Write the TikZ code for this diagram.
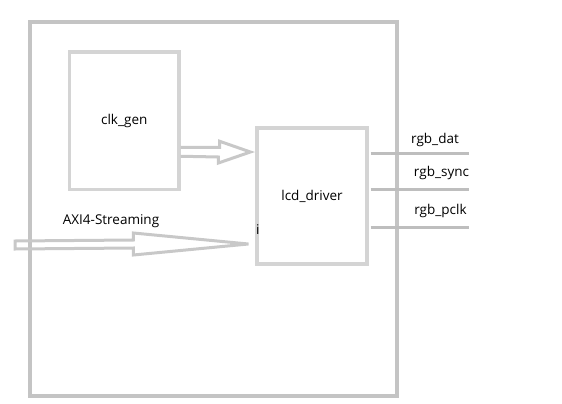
\documentclass[tikz,border=0pt]{standalone}
\usepackage{fontspec}
\setmainfont{Open Sans}
\definecolor{outerc}{HTML}{C4C4C4}
\definecolor{boxc}{HTML}{D4D4D4}
\definecolor{arrc}{HTML}{C8C8C8}
\definecolor{linec}{HTML}{BEBEBE}
\definecolor{txt}{HTML}{000000}
\begin{document}
\begin{tikzpicture}[x=1pt,y=-1pt,
  outerbox/.style={draw=outerc,line width=4pt,rectangle,inner sep=0pt},
  blockbox/.style={draw=boxc,line width=3.2pt,rectangle,inner sep=0pt,text=txt,font=\fontsize{13.5}{15}\selectfont},
  hollowarrow/.style={draw=arrc,line width=3pt,line join=miter},
  sigline/.style={draw=linec,line width=3pt},
  lbl/.style={text=txt,font=\fontsize{13.5}{15}\selectfont,inner sep=0pt}]
\useasboundingbox (0,0) rectangle (562,404);
\node[outerbox,minimum width=367pt,minimum height=374pt] (top) at (213.5,209) {};
\node[blockbox,minimum width=109.5pt,minimum height=137.5pt] (clk) at (124.25,120.75) {clk\_gen};
\node[blockbox,minimum width=110pt,minimum height=136pt] (lcd) at (312,196) {lcd\_driver};
% clk_gen -> lcd_driver hollow arrow
\coordinate (ctip) at ([xshift=-5pt,yshift=44pt]lcd.west);
\draw[hollowarrow] ([yshift=-26.5pt]clk.east) -- ++(39,0) -- ++(0,-6) -- (ctip) -- ++(-32,11) -- ++(0,-6) -- ([yshift=-35.5pt]clk.east);
% AXI4-Streaming hollow arrow
\coordinate (ain) at (15,245);
\coordinate (atip) at ([xshift=-7pt,yshift=-48pt]lcd.west);
\draw[hollowarrow] ([yshift=4pt]ain) -- ([yshift=4pt,xshift=-115pt]atip) -- ([yshift=11pt,xshift=-115pt]atip) -- (atip) -- ([yshift=-11pt,xshift=-115pt]atip) -- ([yshift=-4pt,xshift=-115pt]atip) -- ([yshift=-4pt]ain) -- cycle;
\node[lbl] (axi) at (111,221) {AXI4-Streaming};
\node[lbl,anchor=west] (ichar) at ([xshift=0.5pt,yshift=-34pt]lcd.west) {i};
% outputs
\coordinate (o1) at (469,153);
\coordinate (o2) at (469,189.5);
\coordinate (o3) at (469,227);
\draw[sigline] ([xshift=2pt]lcd.east |- o1) -- (o1);
\draw[sigline] ([xshift=2pt]lcd.east |- o2) -- (o2);
\draw[sigline] ([xshift=2pt]lcd.east |- o3) -- (o3);
\node[lbl] (l1) at (435,140) {rgb\_dat};
\node[lbl] (l2) at (441.5,173) {rgb\_sync};
\node[lbl] (l3) at (440.5,211) {rgb\_pclk};
\end{tikzpicture}
\end{document}
